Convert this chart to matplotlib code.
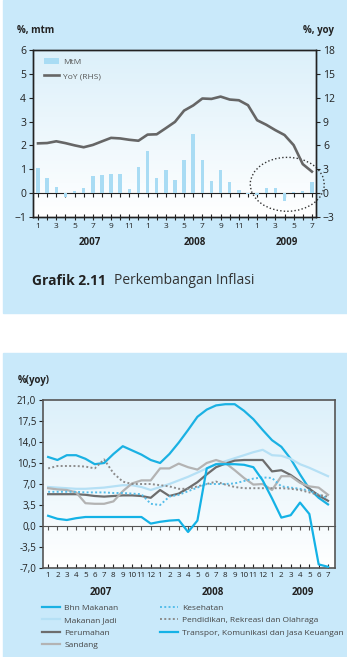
import numpy as np
import matplotlib
matplotlib.use("Agg")
import matplotlib.pyplot as plt
import matplotlib.transforms as mtransforms
from matplotlib.patches import Ellipse, Rectangle
from matplotlib.colors import LinearSegmentedColormap
from matplotlib.ticker import FuncFormatter

plt.rcParams['font.family'] = ['Open Sans', 'DejaVu Sans']

# data: Jan 2007 .. Jul 2009
years = ['2007', '2008', '2009']
months = list(range(1, 13)) + list(range(1, 13)) + list(range(1, 8))

mtm = [1.04, 0.62, 0.24, -0.16, 0.10, 0.23, 0.72, 0.75, 0.80, 0.79, 0.18, 1.10,
       1.77, 0.65, 0.95, 0.57, 1.41, 2.46, 1.37, 0.51, 0.97, 0.45, 0.12, -0.04,
       -0.07, 0.21, 0.22, -0.31, 0.04, 0.11, 0.45]
yoy = [6.26, 6.30, 6.52, 6.29, 6.01, 5.77, 6.06, 6.51, 6.95, 6.88, 6.71, 6.59,
       7.36, 7.40, 8.17, 8.96, 10.38, 11.03, 11.90, 11.85, 12.14, 11.77, 11.68, 11.06,
       9.17, 8.60, 7.92, 7.31, 6.04, 3.65, 2.71]

bhn_makanan = [11.5, 11.0, 11.8, 11.8, 11.2, 10.3, 10.5, 12.0, 13.3, 12.6, 11.9, 11.0,
               10.5, 12.0, 13.9, 16.0, 18.2, 19.4, 20.1, 20.3, 20.3, 19.2, 17.8, 16.0,
               14.3, 13.2, 11.2, 8.6, 6.2, 4.7, 3.6]
makanan_jadi = [6.5, 6.4, 6.3, 6.2, 6.2, 6.3, 6.4, 6.6, 6.8, 6.8, 6.5, 6.0,
                6.5, 7.0, 7.6, 8.2, 8.9, 9.6, 10.3, 10.8, 11.3, 11.8, 12.3, 12.7,
                11.8, 11.7, 11.2, 10.3, 9.7, 9.0, 8.3]
perumahan = [5.3, 5.3, 5.3, 5.3, 5.2, 5.0, 4.9, 5.0, 5.1, 5.1, 5.0, 4.7,
             6.0, 5.0, 5.4, 6.3, 7.3, 8.6, 9.8, 10.4, 10.9, 11.0, 11.0, 11.0,
             9.1, 9.3, 8.5, 7.4, 6.2, 5.1, 4.2]
sandang = [6.3, 6.1, 6.0, 5.6, 3.8, 3.7, 3.7, 4.1, 5.8, 7.1, 7.6, 7.6,
           9.6, 9.6, 10.4, 9.8, 9.4, 10.5, 11.0, 10.5, 9.3, 8.0, 6.9, 7.0,
           6.0, 8.3, 8.3, 7.2, 6.6, 6.4, 5.2]
kesehatan = [5.7, 5.7, 5.7, 5.7, 5.6, 5.6, 5.6, 5.5, 5.5, 5.4, 5.3, 3.7,
             3.5, 4.9, 5.2, 5.8, 6.4, 7.0, 7.0, 7.0, 7.1, 7.5, 7.9, 8.1,
             8.0, 6.6, 6.4, 6.2, 5.9, 5.2, 4.6]
pendidikan = [9.6, 10.0, 10.0, 10.0, 9.9, 9.6, 11.1, 8.8, 7.4, 7.0, 7.0, 7.0,
              6.8, 6.6, 6.2, 6.2, 6.6, 7.0, 7.4, 6.9, 6.5, 6.3, 6.3, 6.3,
              6.3, 6.3, 6.2, 6.0, 5.6, 5.2, 4.9]
transpor = [1.7, 1.2, 1.0, 1.3, 1.5, 1.5, 1.5, 1.5, 1.5, 1.5, 1.5, 0.4,
            0.7, 0.9, 1.0, -1.0, 0.9, 9.6, 10.3, 10.3, 10.3, 10.2, 9.8, 7.6,
            4.6, 1.4, 1.8, 3.9, 2.0, -6.4, -6.8]

W, H = 347, 657
BG = '#c9e9fa'
INK = '#222222'


def box(x0, y0, x1, y1):
    return [x0 / W, 1 - y1 / H, (x1 - x0) / W, (y1 - y0) / H]


def gradient(ax):
    grad = np.linspace(0, 1, 256).reshape(-1, 1)
    cmap = LinearSegmentedColormap.from_list('g', ['#ffffff', '#dcf0fa'])
    ax.imshow(grad, extent=[0, 1, 0, 1], transform=ax.transAxes, cmap=cmap,
              aspect='auto', origin='lower', zorder=0)


fig = plt.figure(figsize=(W / 100, H / 100), dpi=100, facecolor='white')
fig.patches.append(Rectangle((3 / W, 1 - 313 / H), 1 - 3 / W, 313 / H,
                             transform=fig.transFigure, color=BG, zorder=-5))
fig.patches.append(Rectangle((3 / W, 0), 1 - 3 / W, 1 - 353 / H,
                             transform=fig.transFigure, color=BG, zorder=-5))

x = np.arange(len(months))
odd_labels = [str(m) if (m % 2 == 1) else '' for m in months]

# ---- top chart ----
ax = fig.add_axes(box(33, 50, 316, 217))
gradient(ax)
bars = ax.bar(x, mtm, width=0.38, color='#a9dcf4', label='MtM', zorder=2)
ax.set_xlim(-0.55, 30.45)
ax.set_ylim(-1, 6)
ax.set_yticks(range(-1, 7))
ax.set_xticks(x)
ax.set_xticklabels(odd_labels)
ax.tick_params(axis='x', direction='inout', length=4, labelsize=6, pad=2, colors=INK)
ax.tick_params(axis='y', direction='out', length=3, labelsize=7.5, pad=2, colors=INK)

ax2 = ax.twinx()
line, = ax2.plot(x, yoy, color='#666666', lw=1.9, label='YoY (RHS)', zorder=3)
ax2.set_ylim(-3, 18)
ax2.set_yticks(range(-3, 19, 3))
ax2.tick_params(axis='y', direction='out', length=3, labelsize=7.5, pad=2, colors=INK)
for a in (ax, ax2):
    for s in a.spines.values():
        s.set_color(INK)
        s.set_linewidth(1)

zero = ax.secondary_xaxis(1 / 7)
zero.set_alignment('bottom')
zero.set_xticks(x)
zero.set_xticklabels([])
zero.tick_params(direction='out', length=3, color=INK)
zero.spines['bottom'].set_color(INK)

ax.add_patch(Ellipse((27.3, 0.37), 8.1, 2.26, fill=False, ls=(0, (1, 1.6)),
                     lw=1, ec='#333333', clip_on=False, zorder=6))

leg = ax2.legend([bars, line], ['MtM', 'YoY (RHS)'], loc='upper left',
                 bbox_to_anchor=(0.04, 0.955), frameon=False, fontsize=6,
                 handlelength=1.8, handleheight=0.8, handletextpad=0.4,
                 labelspacing=0.8, borderpad=0, borderaxespad=0)
for t in leg.get_texts():
    t.set_color('#555555')

tr = mtransforms.blended_transform_factory(ax.transData, ax.transAxes)
for yr, xp in zip(years, [5.7, 17.2, 27.2]):
    ax.text(xp, -0.15, yr, transform=tr, ha='center', va='center',
            fontsize=7, fontweight='bold', color=INK)

fig.text(17 / W, 1 - 31 / H, '%, mtm', fontsize=7, fontweight='bold', va='center', color=INK)
fig.text(334 / W, 1 - 31 / H, '%, yoy', fontsize=7, fontweight='bold', va='center',
         ha='right', color=INK)
fig.text(32 / W, 1 - 281 / H, 'Grafik 2.11', fontsize=10, fontweight='bold',
         va='center', color=INK)
fig.text(114 / W, 1 - 281 / H, 'Perkembangan Inflasi', fontsize=10,
         va='center', color='#333333')

# ---- bottom chart ----
bx = fig.add_axes(box(43, 400, 335, 568))
gradient(bx)
series = [
    ('Bhn Makanan', bhn_makanan, '#1ab1e3', '-', 1.6),
    ('Makanan Jadi', makanan_jadi, '#b5e0f5', '-', 1.6),
    ('Perumahan', perumahan, '#6d6d6d', '-', 1.6),
    ('Sandang', sandang, '#b3b3b3', '-', 1.6),
    ('Kesehatan', kesehatan, '#55bde9', (0, (1, 1.2)), 1.4),
    ('Pendidikan, Rekreasi dan Olahraga', pendidikan, '#8c8c8c', (0, (1, 1.2)), 1.4),
    ('Transpor, Komunikasi dan Jasa Keuangan', transpor, '#14b2e6', '-', 1.6),
]
handles = []
for name, vals, col, ls, lw in series:
    h, = bx.plot(x, vals, color=col, ls=ls, lw=lw, label=name, zorder=3)
    handles.append(h)

bx.set_xlim(-0.55, 30.75)
bx.set_ylim(-7, 21)
bx.set_yticks(np.arange(-7, 21.1, 3.5))
bx.yaxis.set_major_formatter(FuncFormatter(lambda v, p: f'{v:.1f}'.replace('.', ',')))
bx.set_xticks(x)
bx.set_xticklabels([str(m) for m in months])
bx.tick_params(axis='x', direction='in', length=3, labelsize=5.8, pad=3, colors=INK)
bx.tick_params(axis='y', direction='out', length=3, labelsize=7, pad=2, colors=INK)
for s in bx.spines.values():
    s.set_color('#555555')
    s.set_linewidth(1.2)

zero2 = bx.secondary_xaxis(0.25)
zero2.set_alignment('bottom')
zero2.set_xticks(x)
zero2.set_xticklabels([])
zero2.tick_params(direction='out', length=3, color='#555555')
zero2.spines['bottom'].set_color('#555555')

tr2 = mtransforms.blended_transform_factory(bx.transData, bx.transAxes)
for yr, xp in zip(years, [5.6, 17.7, 27.3]):
    bx.text(xp, -0.143, yr, transform=tr2, ha='center', va='center',
            fontsize=7, fontweight='bold', color=INK)

fig.text(18 / W, 1 - 381 / H, '%(yoy)', fontsize=7, fontweight='bold', va='center', color=INK)

leg_kw = dict(loc='upper left', frameon=False, fontsize=6, handlelength=2.2,
              handletextpad=0.5, labelspacing=0.55, borderpad=0, borderaxespad=0,
              labelcolor='#444444')
fig.legend(handles[:4], [s[0] for s in series[:4]],
           bbox_to_anchor=(42 / W, 1 - 604 / H), **leg_kw)
fig.legend(handles[4:], [s[0] for s in series[4:]],
           bbox_to_anchor=(160 / W, 1 - 604 / H), **leg_kw)

fig.savefig('out.png', dpi=100, facecolor='white')
